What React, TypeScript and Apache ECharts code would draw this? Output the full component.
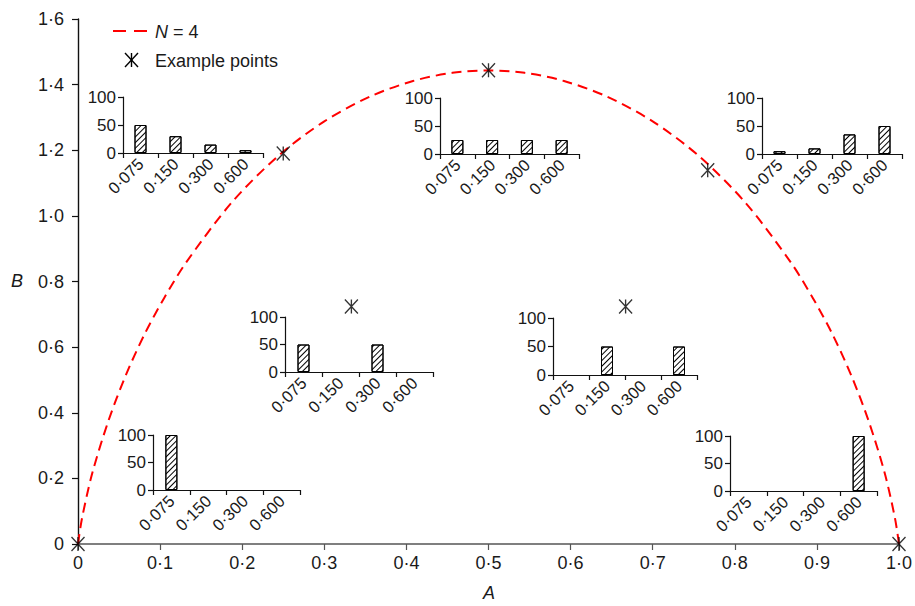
import React, { useEffect, useRef } from 'react';
import * as echarts from 'echarts';

// Envelope curve (N = 4) (curve is symmetric about A = 0.5)
const curveA = [0, 0.005, 0.0175, 0.037, 0.058, 0.081, 0.105, 0.132, 0.187, 0.244, 0.3, 0.356, 0.408, 0.456, 0.5, 0.544, 0.592, 0.644, 0.7, 0.756, 0.813, 0.868, 0.895, 0.919, 0.942, 0.963, 0.9825, 0.995, 1];
const curveB = [0, 0.08, 0.217, 0.375, 0.513, 0.639, 0.75, 0.859, 1.04, 1.183, 1.288, 1.364, 1.411, 1.436, 1.443, 1.436, 1.411, 1.364, 1.288, 1.183, 1.04, 0.859, 0.75, 0.639, 0.513, 0.375, 0.217, 0.08, 0];

// Example points
const pointA = [0, 0.25, 0.333, 0.5, 0.667, 0.767, 1];
const pointB = [0, 1.19, 0.724, 1.444, 0.724, 1.139, 0];

// Inset histograms
const sizeClasses = ['0·075', '0·150', '0·300', '0·600'];
const distTopLeft = [50, 30, 15, 5];
const distTopMid = [25, 25, 25, 25];
const distTopRight = [5, 10, 35, 50];
const distMidLeft = [50, 0, 50, 0];
const distMidRight = [0, 50, 0, 50];
const distBottomLeft = [100, 0, 0, 0];
const distBottomRight = [0, 0, 0, 100];
const insetTicks = [0, 50, 100];

const FONT = '"Liberation Sans", Arial, Helvetica, sans-serif';
const TXT = '#1a1a1a';

const insets = [
  { left: 123, top: 97, width: 140, height: 56, data: distTopLeft },
  { left: 440, top: 98, width: 139, height: 56, data: distTopMid },
  { left: 762, top: 98, width: 140, height: 56, data: distTopRight },
  { left: 285, top: 317, width: 148, height: 55, data: distMidLeft },
  { left: 553, top: 318, width: 144, height: 57, data: distMidRight },
  { left: 153, top: 435, width: 147, height: 55, data: distBottomLeft },
  { left: 730, top: 436, width: 147, height: 55, data: distBottomRight },
];

const fmt = (v: number) => (Math.abs(v) < 1e-9 ? '0' : v.toFixed(1).replace('.', '\u00B7'));

const STAR = 'path://M0,0L12,14M12,0L0,14M6,0L6,14';

export default function App() {
  const ref = useRef<HTMLDivElement>(null);
  useEffect(() => {
    document.body.style.margin = '0';
    const chart = echarts.init(ref.current!, undefined, { renderer: 'svg' });

    const grids: any[] = [{ left: 78, right: 15, top: 19, bottom: 62 }];
    const xAxes: any[] = [
      {
        type: 'value', gridIndex: 0, min: 0, max: 1, interval: 0.1,
        axisLine: { show: true, onZero: false, lineStyle: { color: '#555', width: 1.6 } },
        axisTick: { show: true, length: 6, lineStyle: { color: '#555', width: 1.2 } },
        splitLine: { show: false },
        axisLabel: { formatter: fmt, fontSize: 18, color: TXT, fontFamily: FONT, margin: 10 },
      },
    ];
    const yAxes: any[] = [
      {
        type: 'value', gridIndex: 0, min: 0, max: 1.6, interval: 0.2,
        axisLine: { show: true, onZero: false, lineStyle: { color: '#111', width: 1.4 } },
        axisTick: { show: true, length: 6, lineStyle: { color: '#111', width: 1.2 } },
        splitLine: { show: false },
        axisLabel: { formatter: fmt, fontSize: 18, color: TXT, fontFamily: FONT, margin: 14 },
      },
    ];
    const series: any[] = [
      {
        type: 'line', xAxisIndex: 0, yAxisIndex: 0,
        data: curveA.map((a, i) => [a, curveB[i]]),
        smooth: 0.3, showSymbol: false, silent: true,
        lineStyle: { color: '#ff0000', width: 2, type: [10, 6] },
        z: 2,
      },
      {
        type: 'scatter', xAxisIndex: 0, yAxisIndex: 0,
        data: pointA.map((a, i) => [a, pointB[i]]),
        symbol: STAR, symbolSize: [13, 14],
        itemStyle: { color: 'rgba(0,0,0,0)', borderColor: '#000', borderWidth: 1.4 },
        z: 5,
      },
    ];

    insets.forEach((ins, k) => {
      const idx = k + 1;
      grids.push({ left: ins.left, top: ins.top, width: ins.width, height: ins.height });
      xAxes.push({
        type: 'category', gridIndex: idx, data: sizeClasses,
        axisLine: { show: true, lineStyle: { color: '#111', width: 1.2 } },
        axisTick: { show: true, length: 5, alignWithLabel: false, lineStyle: { color: '#111', width: 1.2 } },
        axisLabel: { interval: 0, rotate: 45, fontSize: 16.5, color: TXT, fontFamily: FONT, margin: 8 },
        splitLine: { show: false },
      });
      yAxes.push({
        type: 'value', gridIndex: idx, min: insetTicks[0], max: insetTicks[2], interval: insetTicks[1],
        axisLine: { show: true, lineStyle: { color: '#111', width: 1.2 } },
        axisTick: { show: true, length: 5, lineStyle: { color: '#111', width: 1.2 } },
        axisLabel: { fontSize: 17, color: TXT, fontFamily: FONT, margin: 7 },
        splitLine: { show: false },
      });
      series.push({
        type: 'bar', xAxisIndex: idx, yAxisIndex: idx,
        data: ins.data.map((v) => (v === 0 ? '-' : v)),
        barWidth: 12, silent: true,
        itemStyle: {
          color: '#ffffff', borderColor: '#000', borderWidth: 1,
          decal: {
            symbol: 'rect', symbolSize: 1,
            dashArrayX: [1, 0], dashArrayY: [1, 2.6],
            rotation: -Math.PI / 4, color: '#000', backgroundColor: '#fff',
          },
        },
      });
    });

    const starLines = (cx: number, cy: number) => ({
      type: 'group',
      children: [
        { type: 'line', shape: { x1: cx - 6.5, y1: cy - 7, x2: cx + 6.5, y2: cy + 7 }, style: { stroke: '#000', lineWidth: 1.4 } },
        { type: 'line', shape: { x1: cx + 6.5, y1: cy - 7, x2: cx - 6.5, y2: cy + 7 }, style: { stroke: '#000', lineWidth: 1.4 } },
        { type: 'line', shape: { x1: cx, y1: cy - 7, x2: cx, y2: cy + 7 }, style: { stroke: '#000', lineWidth: 1.4 } },
      ],
    });

    chart.setOption({
      animation: false,
      backgroundColor: '#fff',
      textStyle: { fontFamily: FONT },
      grid: grids,
      xAxis: xAxes,
      yAxis: yAxes,
      series,
      graphic: [
        { type: 'line', shape: { x1: 113, y1: 31, x2: 148, y2: 31 }, style: { stroke: '#ff0000', lineWidth: 2, lineDash: [13, 8] } },
        { type: 'text', x: 155, y: 32, style: { text: 'N', font: `italic 18px ${FONT}`, fill: TXT, verticalAlign: 'middle' } },
        { type: 'text', x: 173, y: 32, style: { text: '= 4', font: `18px ${FONT}`, fill: TXT, verticalAlign: 'middle' } },
        starLines(131.5, 60),
        { type: 'text', x: 155, y: 61, style: { text: 'Example points', font: `18px ${FONT}`, fill: TXT, verticalAlign: 'middle' } },
        { type: 'text', x: 17, y: 281, style: { text: 'B', font: `italic 18px ${FONT}`, fill: TXT, align: 'center', verticalAlign: 'middle' } },
        { type: 'text', x: 489, y: 593, style: { text: 'A', font: `italic 18px ${FONT}`, fill: TXT, align: 'center', verticalAlign: 'middle' } },
      ],
    });
    return () => chart.dispose();
  }, []);
  return <div ref={ref} style={{ width: 915, height: 606 }} />;
}
